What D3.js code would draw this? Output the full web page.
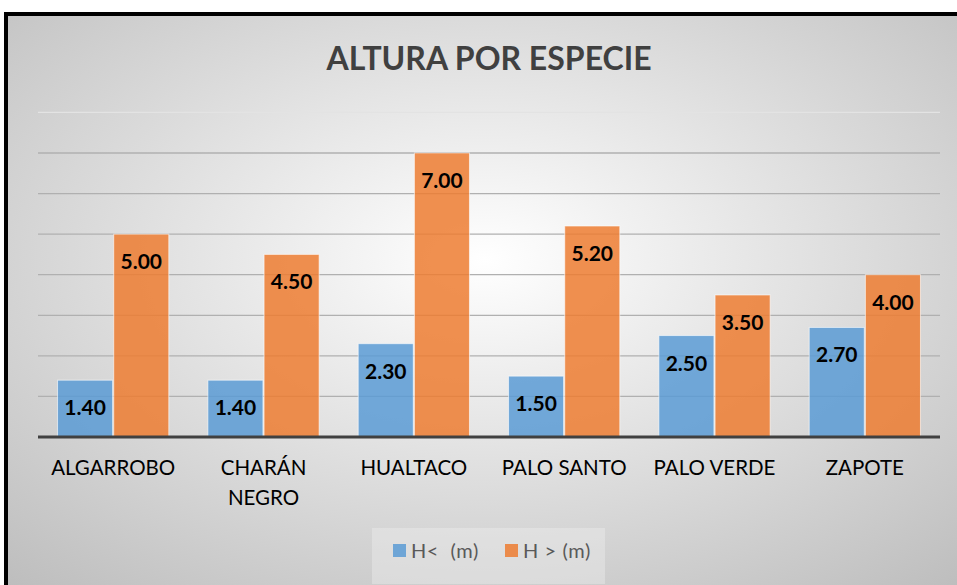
<!DOCTYPE html>
<html>
<head>
<meta charset="utf-8">
<script src="https://cdn.jsdelivr.net/npm/d3@7"></script>
<style>
  body { margin: 0; background: #fff; }
  svg { display: block; }
</style>
</head>
<body>
<script>
// Data
const species = ["ALGARROBO", "CHARÁN NEGRO", "HUALTACO", "PALO SANTO", "PALO VERDE", "ZAPOTE"];
const seriesNames = ["H<  (m)", "H > (m)"];
const hMin = [1.40, 1.40, 2.30, 1.50, 2.50, 2.70];
const hMax = [5.00, 4.50, 7.00, 5.20, 3.50, 4.00];
const gridTicks = [1, 2, 3, 4, 5, 6, 7, 8];

const colors = ["#5b9bd5", "#ed7d31"];

const width = 957, height = 585;
let svg = d3.select("body").append("svg")
    .attr("width", width)
    .attr("height", height)

// background gradient
let defs = svg.append("defs")
let grad = defs.append("radialGradient")
    .attr("id", "bg")
    .attr("cx", "50%").attr("cy", "42%").attr("r", "75%")
grad.append("stop").attr("offset", "0%").attr("stop-color", "#ffffff")
grad.append("stop").attr("offset", "100%").attr("stop-color", "#bdbdbd")

svg.append("rect")
    .attr("x", 6).attr("y", 14)
    .attr("width", width).attr("height", height)
    .attr("fill", "url(#bg)")
    .attr("stroke", "#000")
    .attr("stroke-width", 4)

// title
svg.append("text")
    .attr("x", 489).attr("y", 70)
    .attr("text-anchor", "middle")
    .style("font-family", "Lato, 'Open Sans', sans-serif")
    .style("font-weight", "bold")
    .style("font-size", "32px")
    .attr("fill", "#404040")
    .text("ALTURA POR ESPECIE")

const plotLeft = 38, plotRight = 940, plotTop = 112.4, plotBottom = 437;

let x0 = d3.scaleBand()
    .domain(species)
    .range([plotLeft, plotRight])
    .paddingInner(0.26)
    .paddingOuter(0.13)
let x1 = d3.scaleBand()
    .domain([0, 1])
    .range([0, x0.bandwidth()])
    .paddingInner(0.02)
let y = d3.scaleLinear()
    .domain([0, 8])
    .range([plotBottom, plotTop])

// gridlines
svg.append("g")
    .selectAll("line")
    .data(gridTicks).enter()
    .append("line")
    .attr("x1", plotLeft).attr("x2", plotRight)
    .attr("y1", d => y(d)).attr("y2", d => y(d))
    .attr("stroke", d => d === 8 ? "#e3e3e3" : "#b0b0b0")
    .attr("stroke-width", 1.3)

// bars
let rows = species.map((s, i) => ({ name: s, vals: [hMin[i], hMax[i]] }))
let groups = svg.selectAll(".grp")
    .data(rows).enter()
    .append("g")
    .attr("class", "grp")
    .attr("transform", d => `translate(${x0(d.name)},0)`)

groups.selectAll("rect")
    .data(d => d.vals.map((v, k) => ({ k: k, v: v }))).enter()
    .append("rect")
    .attr("x", d => x1(d.k))
    .attr("y", d => y(d.v))
    .attr("width", x1.bandwidth())
    .attr("height", d => y(0) - y(d.v))
    .attr("fill", d => colors[d.k])
    .attr("fill-opacity", 0.85)
    .attr("stroke", "#ffffff")
    .attr("stroke-opacity", 0.6)
    .attr("stroke-width", 1)

groups.selectAll(".lbl")
    .data(d => d.vals.map((v, k) => ({ k: k, v: v }))).enter()
    .append("text")
    .attr("class", "lbl")
    .attr("x", d => x1(d.k) + x1.bandwidth() / 2)
    .attr("y", d => y(d.v) + 35)
    .attr("text-anchor", "middle")
    .style("font-family", "Lato, 'Open Sans', sans-serif")
    .style("font-weight", "bold")
    .style("font-size", "21px")
    .attr("fill", "#000")
    .text(d => d.v.toFixed(2))

// axis baseline
let xAxis = svg.append("g")
    .attr("transform", `translate(0,${plotBottom})`)
    .call(d3.axisBottom(x0).tickSize(0).tickPadding(0))
xAxis.select(".domain")
    .attr("stroke", "#404040")
    .attr("stroke-width", 3)
    .attr("d", `M${plotLeft},0H${plotRight}`)
xAxis.selectAll(".tick text").remove()
xAxis.selectAll(".tick").each(function(d) {
    let words = d === "CHARÁN NEGRO" ? ["CHARÁN", "NEGRO"] : [d]
    let t = d3.select(this).append("text")
        .attr("text-anchor", "middle")
        .attr("fill", "#000")
        .style("font-family", "Lato, 'Open Sans', sans-serif")
        .style("font-size", "20.5px")
    words.forEach((w, i) => {
        t.append("tspan").attr("x", 0).attr("y", 38 + i * 30).text(w)
    })
})

// legend
svg.append("rect")
    .attr("x", 372).attr("y", 528)
    .attr("width", 233).attr("height", 56)
    .attr("fill", "#f4f4f4")
    .attr("fill-opacity", 0.35)
let leg = svg.append("g")
let legX = [393, 505]
seriesNames.forEach((name, i) => {
    leg.append("rect")
        .attr("x", legX[i]).attr("y", 544)
        .attr("width", 13).attr("height", 13)
        .attr("fill", colors[i])
        .attr("fill-opacity", 0.85)
    leg.append("text")
        .attr("x", legX[i] + 18).attr("y", 558)
        .style("font-family", "Lato, 'Open Sans', sans-serif")
        .style("font-size", "20px")
        .style("letter-spacing", "0.6px")
        .attr("fill", "#595959")
        .style("white-space", "pre")
        .text(name)
})
</script>
</body>
</html>
